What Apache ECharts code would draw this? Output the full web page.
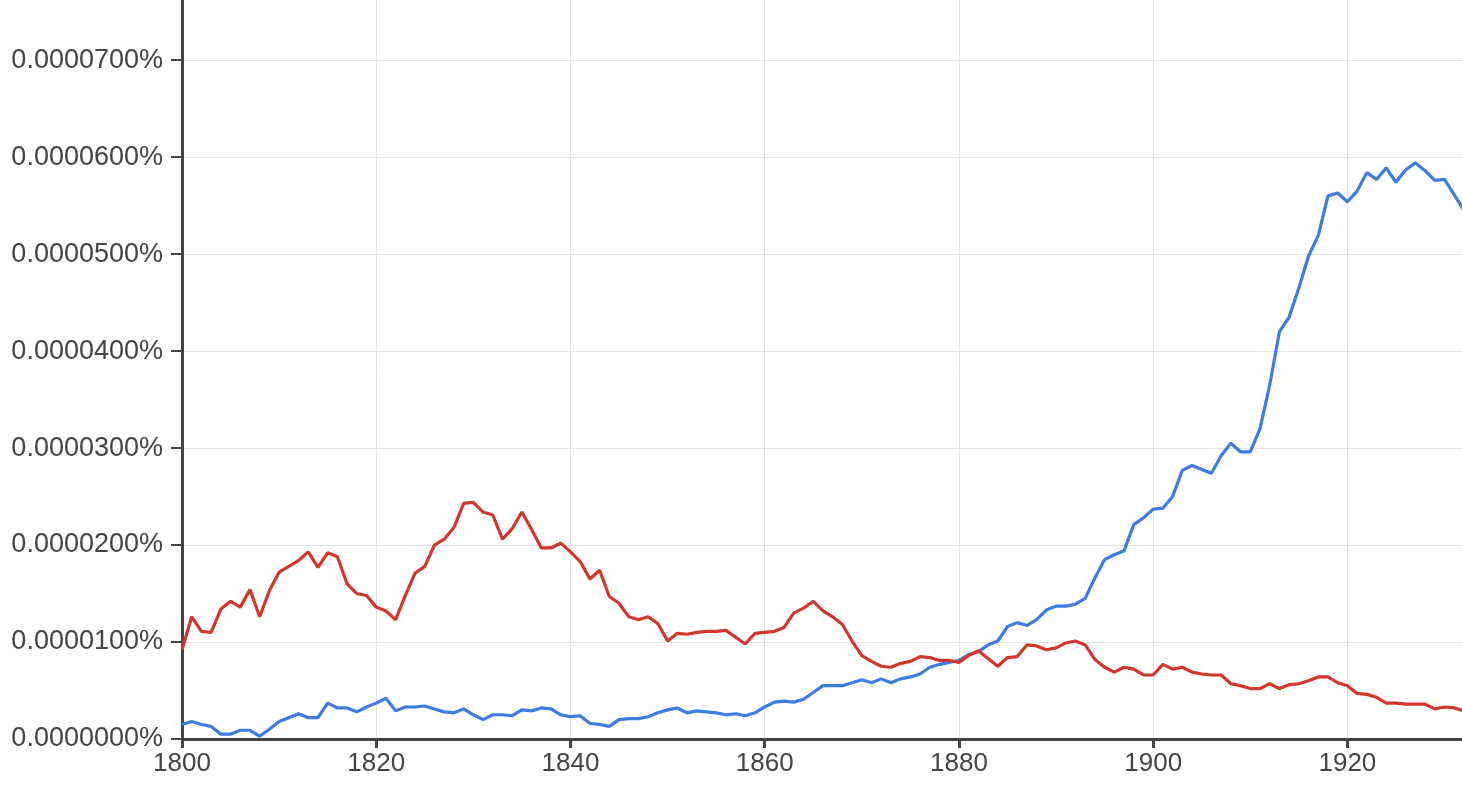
<!DOCTYPE html>
<html>
<head>
<meta charset="utf-8">
<script src="https://cdn.jsdelivr.net/npm/echarts@6/dist/echarts.min.js"></script>
<style>
  html, body { margin: 0; padding: 0; background: #fff; }
  #chart { width: 1462px; height: 800px; }
</style>
</head>
<body>
<div id="chart"></div>
<script>
// Years run from startYear, one value per year (values in units of 1e-7 percent)
const startYear = 1800;
const xTickLabels = [1800, 1820, 1840, 1860, 1880, 1900, 1920];
const yTickLabels = ['0.0000000%', '0.0000100%', '0.0000200%', '0.0000300%', '0.0000400%', '0.0000500%', '0.0000600%', '0.0000700%'];

const blueValues = [
  15, 18, 15, 13, 5, 5, 9, 9, 3, 10,
  18, 22, 26, 22, 22, 37, 32, 32, 28, 33,
  37, 42, 29, 33, 33, 34, 31, 28, 27, 31,
  25, 20, 25, 25, 24, 30, 29, 32, 31, 25,
  23, 24, 16, 15, 13, 20, 21, 21, 23, 27,
  30, 32, 27, 29, 28, 27, 25, 26, 24, 27,
  33, 38, 39, 38, 41, 48, 55, 55, 55, 58,
  61, 58, 62, 58, 62, 64, 67, 74, 77, 79,
  81, 87, 90, 97, 101, 116, 120, 117, 123, 133,
  137, 137, 139, 145, 166, 185, 190, 194, 221, 228,
  237, 238, 250, 277, 282, 278, 274, 292, 305, 296,
  296, 320, 365, 420, 435, 465, 498, 519, 560, 563,
  554, 565, 584, 577, 589, 574, 587, 594, 586, 576,
  577, 561, 545
];

const redValues = [
  92, 126, 111, 110, 134, 142, 136, 154, 126, 153,
  172, 178, 184, 193, 177, 192, 188, 160, 150, 148,
  136, 132, 123, 148, 171, 178, 200, 206, 218, 243,
  244, 234, 231, 206, 217, 234, 216, 197, 197, 202,
  193, 183, 165, 174, 147, 140, 126, 123, 126, 119,
  101, 109, 108, 110, 111, 111, 112, 105, 98, 109,
  110, 111, 115, 130, 135, 142, 132, 126, 118, 101,
  86, 80, 75, 74, 78, 80, 85, 84, 81, 81,
  79, 86, 91, 83, 75, 84, 85, 97, 96, 92,
  94, 99, 101, 97, 82, 74, 69, 74, 72, 66,
  66, 77, 72, 74, 69, 67, 66, 66, 57, 55,
  52, 52, 57, 52, 56, 57, 60, 64, 64, 58,
  55, 47, 46, 43, 37, 37, 36, 36, 36, 31,
  33, 32, 29
];

function toPairs(vals) {
  return vals.map((v, i) => [startYear + i, v]);
}

const chart = echarts.init(document.getElementById('chart'), null, { renderer: 'canvas' });
const font = "'Liberation Sans', Arial, Helvetica, sans-serif";

chart.setOption({
  animation: false,
  backgroundColor: '#ffffff',
  grid: { left: 182, right: 0, top: 0, bottom: 61, containLabel: false },
  xAxis: {
    type: 'value',
    min: 1800,
    max: 1931.8,
    interval: 20,
    axisLine: { show: true, lineStyle: { color: '#444444', width: 3 } },
    axisTick: { show: true, length: 9, lineStyle: { color: '#444444', width: 3 } },
    axisLabel: {
      margin: 12,
      fontSize: 26,
      fontFamily: font,
      color: '#444444',
      showMaxLabel: false,
      formatter: v => xTickLabels.includes(v) ? String(v) : ''
    },
    splitLine: { show: true, showMaxLine: false, lineStyle: { color: '#e3e3e3', width: 1 } }
  },
  yAxis: {
    type: 'value',
    min: 0,
    max: 762,
    interval: 100,
    axisLine: { show: true, lineStyle: { color: '#444444', width: 3 } },
    axisTick: { show: true, length: 11, lineStyle: { color: '#444444', width: 2 } },
    axisLabel: {
      margin: 19,
      fontSize: 27,
      fontFamily: font,
      color: '#444444',
      showMaxLabel: false,
      formatter: v => {
        const k = Math.round(v / 100);
        return (Math.abs(v - k * 100) < 1e-6 && yTickLabels[k]) ? yTickLabels[k] : '';
      }
    },
    splitLine: { show: true, showMaxLine: false, lineStyle: { color: '#e3e3e3', width: 1 } }
  },
  series: [
    {
      name: 'blue',
      type: 'line',
      data: toPairs(blueValues),
      showSymbol: false,
      symbol: 'none',
      lineStyle: { color: '#3e7be2', width: 3.2 },
      itemStyle: { color: '#3e7be2' }
    },
    {
      name: 'red',
      type: 'line',
      data: toPairs(redValues),
      showSymbol: false,
      symbol: 'none',
      lineStyle: { color: '#d2372d', width: 3.2 },
      itemStyle: { color: '#d2372d' }
    }
  ]
});
</script>
</body>
</html>
